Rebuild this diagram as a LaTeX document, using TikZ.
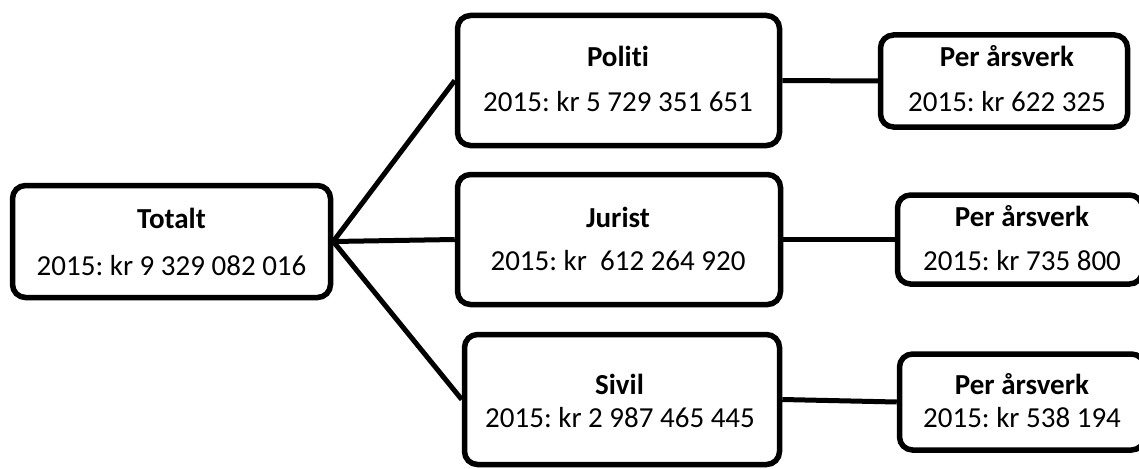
\documentclass[tikz,border=0pt]{standalone}
\usepackage{fontspec}
\setmainfont{Carlito}[Ligatures={NoCommon}]
\begin{document}
\frenchspacing
\begin{tikzpicture}[x=1pt,y=-1pt,
  box/.style={draw=black, line width=5.5pt, rounded corners=13pt, fill=white, inner sep=0pt},
  conn/.style={line width=5pt},
  ttl/.style={font=\fontsize{29}{33}\selectfont\bfseries, anchor=base, inner sep=0pt},
  val/.style={font=\fontsize{29}{33}\selectfont, anchor=base, inner sep=0pt}]
\useasboundingbox (0,0) rectangle (1139,468);
\clip (0,0) rectangle (1139,468);
% boxes
\node[box, minimum width=318pt, minimum height=112pt] (tot) at (171.5,241.5) {};
\node[box, minimum width=322pt, minimum height=130pt] (pol) at (618.5,80.5) {};
\node[box, minimum width=247pt, minimum height=92pt] (pa1) at (1004,81) {};
\node[box, minimum width=245pt, minimum height=89pt] (pa2) at (1020,239.5) {};
\node[box, minimum width=323pt, minimum height=130pt] (jur) at (619,239.5) {};
\node[box, minimum width=315pt, minimum height=130pt] (siv) at (622,399.5) {};
\node[box, minimum width=245pt, minimum height=96pt] (pa3) at (1022,402) {};
% connectors
\draw[conn] (tot.east) -- (pol.west);
\draw[conn] (tot.east) -- (jur.west);
\draw[conn] (tot.east) -- (siv.west);
\draw[conn] (pol.east) -- (pa1.west);
\draw[conn] (jur.east) -- (pa2.west);
\draw[conn] (siv.east) -- (pa3.west);
% texts
\node[ttl] (totT) at (171.5,228) {Totalt};
\node[val] (totV) at (171.5,275) {2015: kr 9 329 082 016};
\node[ttl] (polT) at (618,67) {Politi};
\node[val] (polV) at (618,112) {2015: kr 5 729 351 651};
\node[ttl] (pa1T) at (1007,67) {Per årsverk};
\node[val] (pa1V) at (1007,111) {2015: kr 622 325};
\node[ttl] (jurT) at (618,227) {Jurist};
\node[val] (jurV) at (618,270) {2015: kr\ \ 612 264 920};
\node[ttl] (pa2T) at (1022,226) {Per årsverk};
\node[val] (pa2V) at (1022,270) {2015: kr 735 800};
\node[ttl] (sivT) at (619.5,394) {Sivil};
\node[val] (sivV) at (620,427) {2015: kr 2 987 465 445};
\node[ttl] (pa3T) at (1022,394) {Per årsverk};
\node[val] (pa3V) at (1022,427) {2015: kr 538 194};
\end{tikzpicture}
\end{document}
